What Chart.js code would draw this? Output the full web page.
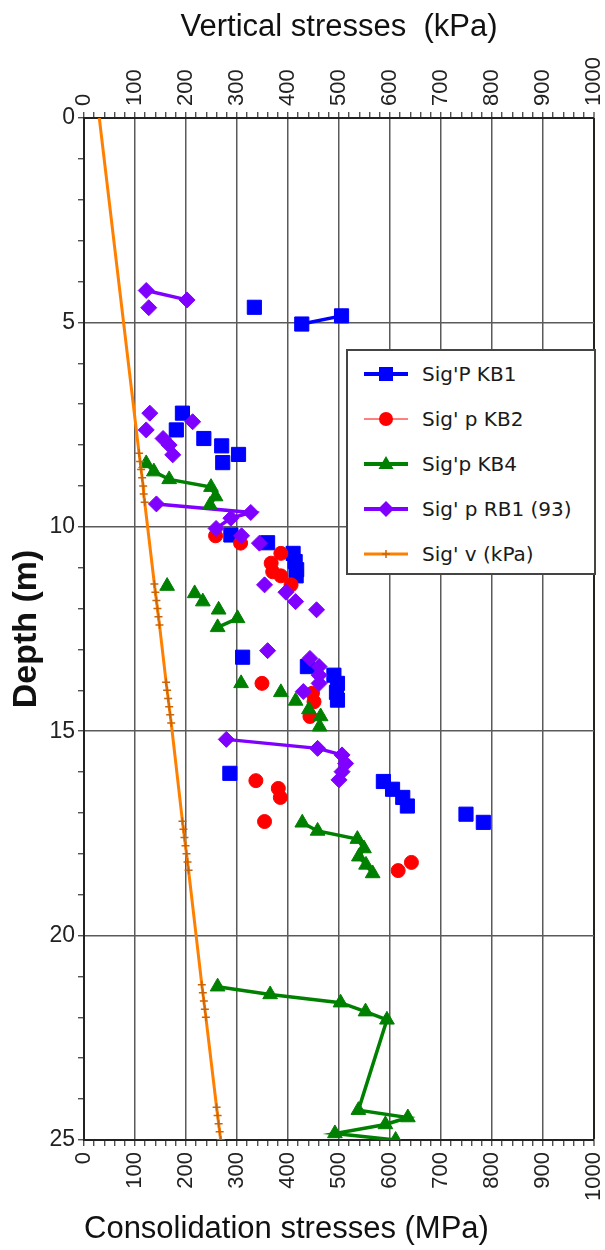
<!DOCTYPE html>
<html>
<head>
<meta charset="utf-8">
<script src="https://cdn.jsdelivr.net/npm/chart.js@4.4.1/dist/chart.umd.min.js"></script>
<style>
  html, body { margin: 0; padding: 0; background: #fff; }
  #wrap { position: relative; width: 605px; height: 1250px; }
  canvas { display: block; }
  #legend {
    position: absolute; left: 346px; top: 349px; width: 246px; height: 222px;
    border: 2px solid #444; background: #fff; box-sizing: content-box;
    font-family: "DejaVu Sans", sans-serif; font-size: 20px; color: #1a1a1a;
  }
  .row { position: absolute; left: 0; height: 30px; display: flex; align-items: center; }
  .row svg { margin-left: 16px; }
  .row span { margin-left: 14px; white-space: nowrap; }
</style>
</head>
<body>
<div id="wrap">
  <canvas id="c" width="605" height="1250"></canvas>
  <div id="legend"></div>
</div>
<script>
// ---- Data ----
const xTickLabels = [0, 100, 200, 300, 400, 500, 600, 700, 800, 900, 1000];
const yTickLabels = [0, 5, 10, 15, 20, 25];

const seriesNames = ["Sig'P KB1", "Sig' p KB2", "Sig'p KB4", "Sig' p RB1 (93)", "Sig' v (kPa)"];

const kb1Depth = [4.63, 4.84, 5.04, 7.22, 7.63, 7.84, 8.02, 8.23, 8.43, 10.2, 10.39, 10.65, 10.85, 11.05, 11.2, 13.19, 13.42, 13.63, 13.83, 14.05, 14.24, 16.03, 16.23, 16.42, 16.62, 16.83, 17.03, 17.23];
const kb1Value = [334, 505, 427, 193, 181, 235, 270, 303, 272, 288, 360, 410, 414, 417, 416, 311, 438, 490, 497, 495, 497, 286, 587, 605, 625, 634, 749, 783];
const kb1Link  = [0, 1, 0, 0, 0, 0, 0, 0, 0, 0, 0, 0, 0, 0, 0, 0, 0, 0, 0, 0, 0, 0, 0, 0, 0, 0, 0, 0];

const kb2Depth = [10.22, 10.4, 10.65, 10.89, 11.1, 11.2, 11.42, 13.83, 14.07, 14.28, 14.64, 16.21, 16.4, 16.62, 17.21, 18.21, 18.41];
const kb2Value = [258, 307, 386, 367, 370, 386, 406, 349, 448, 451, 443, 337, 381, 385, 354, 642, 616];
const kb2Link  = [0, 0, 0, 0, 0, 0, 0, 0, 0, 0, 0, 0, 0, 0, 0, 0, 0];

const kb4Depth = [8.45, 8.65, 8.84, 9.03, 9.26, 9.47, 11.45, 11.63, 11.83, 12.03, 12.24, 12.46, 13.83, 14.05, 14.26, 14.47, 14.64, 14.89, 17.24, 17.44, 17.64, 17.87, 18.07, 18.27, 18.48, 21.25, 21.44, 21.64, 21.86, 22.06, 24.27, 24.45, 24.62, 24.84, 25.0];
const kb4Value = [122, 137, 167, 249, 258, 247, 163, 217, 233, 264, 301, 262, 308, 386, 415, 441, 464, 462, 428, 458, 536, 549, 539, 553, 566, 262, 365, 503, 552, 594, 538, 635, 591, 492, 611];
const kb4Link  = [1, 1, 1, 1, 1, 0, 0, 0, 0, 0, 1, 0, 0, 0, 0, 0, 0, 0, 1, 1, 1, 1, 1, 1, 0, 1, 1, 1, 1, 1, 1, 1, 1, 1, 0];

const rb1Depth = [4.22, 4.45, 4.64, 7.22, 7.43, 7.63, 7.84, 8.0, 8.24, 9.44, 9.65, 9.79, 10.04, 10.22, 10.4, 11.42, 11.6, 11.83, 12.03, 13.03, 13.22, 13.42, 13.63, 13.83, 14.03, 15.2, 15.42, 15.58, 15.79, 15.99, 16.19];
const rb1Value = [122, 202, 127, 129, 213, 122, 155, 167, 174, 142, 327, 288, 259, 309, 344, 354, 396, 415, 456, 360, 443, 461, 461, 461, 430, 279, 458, 506, 513, 506, 500];
const rb1Link  = [1, 0, 0, 0, 0, 0, 0, 0, 0, 1, 1, 1, 0, 0, 0, 0, 0, 0, 0, 0, 0, 0, 0, 0, 0, 1, 1, 1, 1, 1, 0];

const svDepth = [0, 8.2, 8.4, 8.6, 8.8, 9.0, 9.2, 9.4, 11.4, 11.6, 11.8, 12.0, 12.2, 12.4, 13.8, 14.0, 14.2, 14.4, 14.6, 14.8, 17.2, 17.4, 17.6, 17.8, 18.0, 18.2, 18.4, 21.2, 21.4, 21.6, 21.8, 22.0, 24.2, 24.4, 24.6, 24.8, 25.0];
const svValue = [30, 108, 110, 112, 114, 116, 117, 119, 138, 140, 142, 144, 146, 148, 161, 163, 165, 167, 169, 171, 193, 195, 197, 199, 201, 203, 205, 231, 233, 235, 237, 239, 260, 262, 264, 266, 268];
const svMarker = [0, 1, 1, 1, 1, 1, 1, 1, 1, 1, 1, 1, 1, 1, 1, 1, 1, 1, 1, 1, 1, 1, 1, 1, 1, 1, 1, 1, 1, 1, 1, 1, 1, 1, 1, 1, 1];

// ---- Styles ----
const styles = [
  { color: '#0000ff', point: 'rect', radius: 10, line: 3.5, legendLine: 4 },
  { color: '#ff0000', point: 'circle', radius: 7, line: 1, legendLine: 1 },
  { color: '#008000', point: 'triangle', radius: 8.5, line: 3.5, legendLine: 4 },
  { color: '#7f00ff', point: 'rectRot', radius: 8, line: 3.5, legendLine: 4 },
  { color: '#ff8000', point: 'cross', radius: 4, line: 3, legendLine: 3, markerColor: '#c8650a' }
];

function pts(depth, value) { return depth.map((d, i) => ({ x: value[i], y: d })); }

function makeDataset(idx, depth, value, link) {
  const s = styles[idx];
  return {
    label: seriesNames[idx],
    data: pts(depth, value),
    xAxisID: 'x', yAxisID: 'y',
    borderColor: s.color,
    backgroundColor: s.color,
    borderWidth: s.line,
    pointStyle: s.point,
    pointRadius: s.radius,
    pointBorderWidth: 1,
    pointBorderColor: s.color,
    pointBackgroundColor: s.color,
    tension: 0,
    segment: {
      borderColor: c => link[c.p0DataIndex] ? s.color : 'rgba(0,0,0,0)'
    }
  };
}

const datasets = [
  (() => { const d = makeDataset(4, svDepth, svValue, svMarker.map(() => 1));
    d.pointStyle = 'cross';
    d.pointRadius = svMarker.map(m => m ? 4 : 0);
    d.pointBorderWidth = 1.5;
    d.pointBorderColor = styles[4].markerColor;
    return d; })(),
  makeDataset(2, kb4Depth, kb4Value, kb4Link),
  makeDataset(3, rb1Depth, rb1Value, rb1Link),
  makeDataset(1, kb2Depth, kb2Value, kb2Link),
  makeDataset(0, kb1Depth, kb1Value, kb1Link)
];

const tickFontSize = 22;
const tickFont = { family: 'Liberation Sans', size: tickFontSize };
const titleFont = { family: 'Liberation Sans', size: 31 };
const gridDark = '#5a5a5a';

function xAxis(pos, title, h) {
  return {
    type: 'linear', position: pos, min: 0, max: 1000,
    ticks: {
      stepSize: 20, autoSkip: false, minRotation: 90, maxRotation: 90,
      font: tickFont, color: '#222', padding: 6,
      labelOffset: pos === 'top' ? tickFontSize * 1.2 : 0,
      callback: v => xTickLabels.includes(v) ? String(v) : ''
    },
    grid: {
      drawOnChartArea: pos === 'bottom',
      color: c => (c.tick && c.tick.value % 100 === 0) ? (c.tick.value === 1000 ? '#222' : gridDark) : 'rgba(0,0,0,0)',
      lineWidth: c => (c.tick && c.tick.value === 1000) ? 2 : 1.5,
      tickColor: '#333', tickLength: 6, tickWidth: 1.2
    },
    border: { display: true, color: '#222', width: 2 },
    title: { display: true, text: title, font: titleFont, color: '#111',
             align: pos === 'bottom' ? 'start' : 'center',
             padding: pos === 'bottom' ? { top: 0, bottom: 2 } : { top: 9, bottom: 0 } },
    afterFit: s => { s.height = h; s.paddingLeft = 0; s.paddingRight = 0; }
  };
}

new Chart(document.getElementById('c').getContext('2d'), {
  type: 'line',
  data: { datasets },
  options: {
    responsive: false, animation: false,
    layout: { padding: { left: 0, right: 9, top: 0, bottom: 0 } },
    plugins: { legend: { display: false }, tooltip: { enabled: false } },
    scales: {
      x: xAxis('bottom', 'Consolidation stresses (MPa)', 110),
      x2: xAxis('top', 'Vertical stresses  (kPa)', 118),
      y: {
        type: 'linear', reverse: true, min: 0, max: 25,
        ticks: {
          stepSize: 1, autoSkip: false, font: { family: 'Liberation Sans', size: 23 }, color: '#222', padding: 3,
          callback: v => yTickLabels.includes(v) ? String(v) : ''
        },
        grid: {
          color: c => (c.tick && c.tick.value % 5 === 0) ? gridDark : 'rgba(0,0,0,0)',
          lineWidth: 1.5, tickColor: '#333', tickLength: 6, tickWidth: 1.2
        },
        border: { display: true, color: '#222', width: 2 },
        title: { display: true, text: 'Depth (m)', font: { family: 'Liberation Sans', size: 34, weight: 'bold' }, color: '#111', padding: { top: 6, bottom: 0 } },
        afterFit: s => { s.width = 84; s.paddingTop = 0; s.paddingBottom = 0; }
      }
    }
  }
});

// ---- Legend (HTML) ----
const legend = document.getElementById('legend');
const rowTops = [8, 53, 98, 143, 188];
function markerSvg(i) {
  const s = styles[i];
  const c = s.markerColor || s.color;
  let m = '';
  if (s.point === 'rect') m = `<rect x="15" y="4" width="14" height="14" fill="${c}"/>`;
  else if (s.point === 'circle') m = `<circle cx="22" cy="11" r="7" fill="${c}"/>`;
  else if (s.point === 'triangle') m = `<polygon points="22,3 29.5,16 14.5,16" fill="${c}"/>`;
  else if (s.point === 'rectRot') m = `<polygon points="22,3 30,11 22,19 14,11" fill="${c}"/>`;
  else m = `<path d="M18 11 H26 M22 7 V15" stroke="${c}" stroke-width="1.5"/>`;
  return `<svg width="44" height="22" viewBox="0 0 44 22"><line x1="0" y1="11" x2="44" y2="11" stroke="${s.color}" stroke-width="${s.legendLine}"/>${m}</svg>`;
}
seriesNames.forEach((name, i) => {
  const row = document.createElement('div');
  row.className = 'row';
  row.style.top = rowTops[i] + 'px';
  row.innerHTML = markerSvg(i) + `<span>${name}</span>`;
  legend.appendChild(row);
});
</script>
</body>
</html>
